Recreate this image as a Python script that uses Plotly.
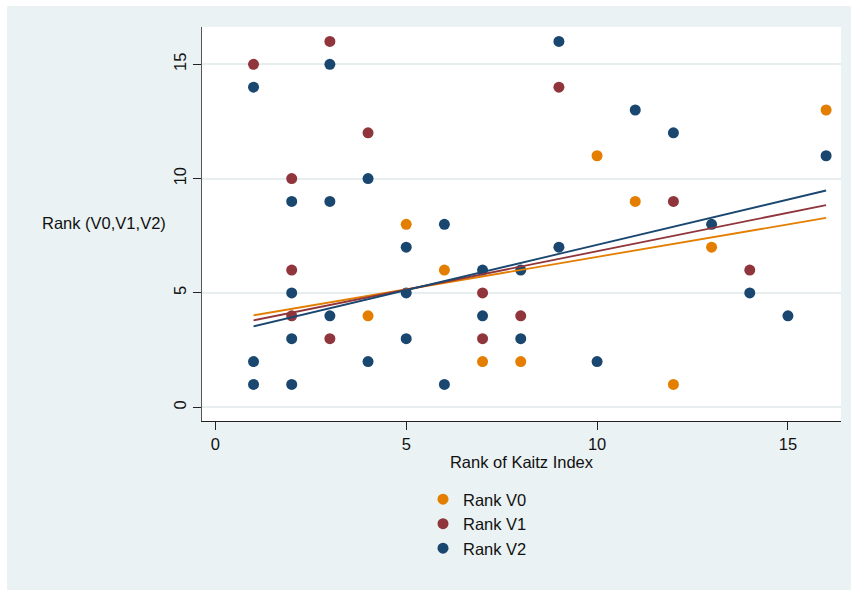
import plotly.graph_objects as go

# ---- data ----
v0_x = [4, 5, 6, 7, 8, 10, 11, 12, 13, 16]
v0_y = [4, 8, 6, 2, 2, 11, 9, 1, 7, 13]

v1_x = [1, 2, 2, 2, 3, 3, 4, 7, 7, 8, 9, 12, 14]
v1_y = [15, 10, 6, 4, 16, 3, 12, 5, 3, 4, 14, 9, 6]

v2_x = [1, 1, 1, 2, 2, 2, 2, 3, 3, 3, 4, 4, 5, 5, 5, 6, 6, 7, 7, 8, 8,
        9, 9, 10, 11, 12, 13, 14, 15, 16]
v2_y = [14, 2, 1, 9, 5, 3, 1, 15, 9, 4, 10, 2, 7, 5, 3, 8, 1, 6, 4, 6, 3,
        16, 7, 2, 13, 12, 8, 5, 4, 11]

# fitted-line end points
fit_x = [1, 16]
fit_v0 = [4.02, 8.28]
fit_v1 = [3.80, 8.84]
fit_v2 = [3.54, 9.48]

series_names = ["Rank V0", "Rank V1", "Rank V2"]
x_ticks = [0, 5, 10, 15]
y_ticks = [0, 5, 10, 15]

colors = ["#e37e00", "#90353b", "#1a476f"]
FONT = "Liberation Sans, Arial, sans-serif"
FS = 16.5

fig = go.Figure()
for xs, ys, name, c in zip([v0_x, v1_x, v2_x], [v0_y, v1_y, v2_y], series_names, colors):
    fig.add_trace(go.Scatter(x=xs, y=ys, mode="markers", name=name,
                             marker=dict(color=c, size=11, line=dict(width=0))))
for ys, c in zip([fit_v0, fit_v1, fit_v2], colors):
    fig.add_trace(go.Scatter(x=fit_x, y=ys, mode="lines", showlegend=False,
                             line=dict(color=c, width=1.8), hoverinfo="skip"))

L, R, T, B = 202, 10, 27, 169
W, H = 851, 590
pw, ph = W - L - R, H - T - B

def px2x(px):
    return (px - L) / pw

def py2y(py):
    return (H - B - py) / ph

fig.update_layout(
    width=W, height=H,
    margin=dict(l=L, r=R, t=T, b=B),
    paper_bgcolor="#eaf2f3",
    plot_bgcolor="white",
    font=dict(family=FONT, size=FS, color="#111"),
    showlegend=True,
    legend=dict(x=px2x(423), y=py2y(482), xanchor="left", yanchor="top",
                bgcolor="rgba(0,0,0,0)", font=dict(size=FS, family=FONT),
                tracegroupgap=0, itemwidth=30),
    xaxis=dict(range=[-0.35, 16.39], tickvals=x_ticks, showgrid=False,
               zeroline=False, showline=True, linecolor="#222", linewidth=1.2,
               ticks="outside", ticklen=8, tickcolor="#222",
               tickfont=dict(size=FS), title=dict(text="Rank of Kaitz Index",
               font=dict(size=FS), standoff=1)),
    yaxis=dict(range=[-0.6, 16.63], tickvals=y_ticks, showgrid=True,
               gridcolor="#e6eef0", gridwidth=1.5, zeroline=False,
               showline=True, linecolor="#555", linewidth=1.2,
               ticks="outside", ticklen=8, tickcolor="#222",
               tickangle=-90, tickfont=dict(size=FS)),
    shapes=[
        dict(type="rect", xref="paper", yref="paper", x0=px2x(0), x1=px2x(W),
             y0=py2y(6), y1=py2y(0), fillcolor="white", line=dict(width=0), layer="below"),
        dict(type="rect", xref="paper", yref="paper", x0=px2x(0), x1=px2x(7),
             y0=py2y(H), y1=py2y(0), fillcolor="white", line=dict(width=0), layer="below"),
    ],
    annotations=[
        dict(text="Rank (V0,V1,V2)", xref="paper", yref="paper",
             x=px2x(168), y=py2y(223), xanchor="right", yanchor="middle",
             showarrow=False, font=dict(size=FS, family=FONT)),
    ],
)

fig.write_html("out.html")
